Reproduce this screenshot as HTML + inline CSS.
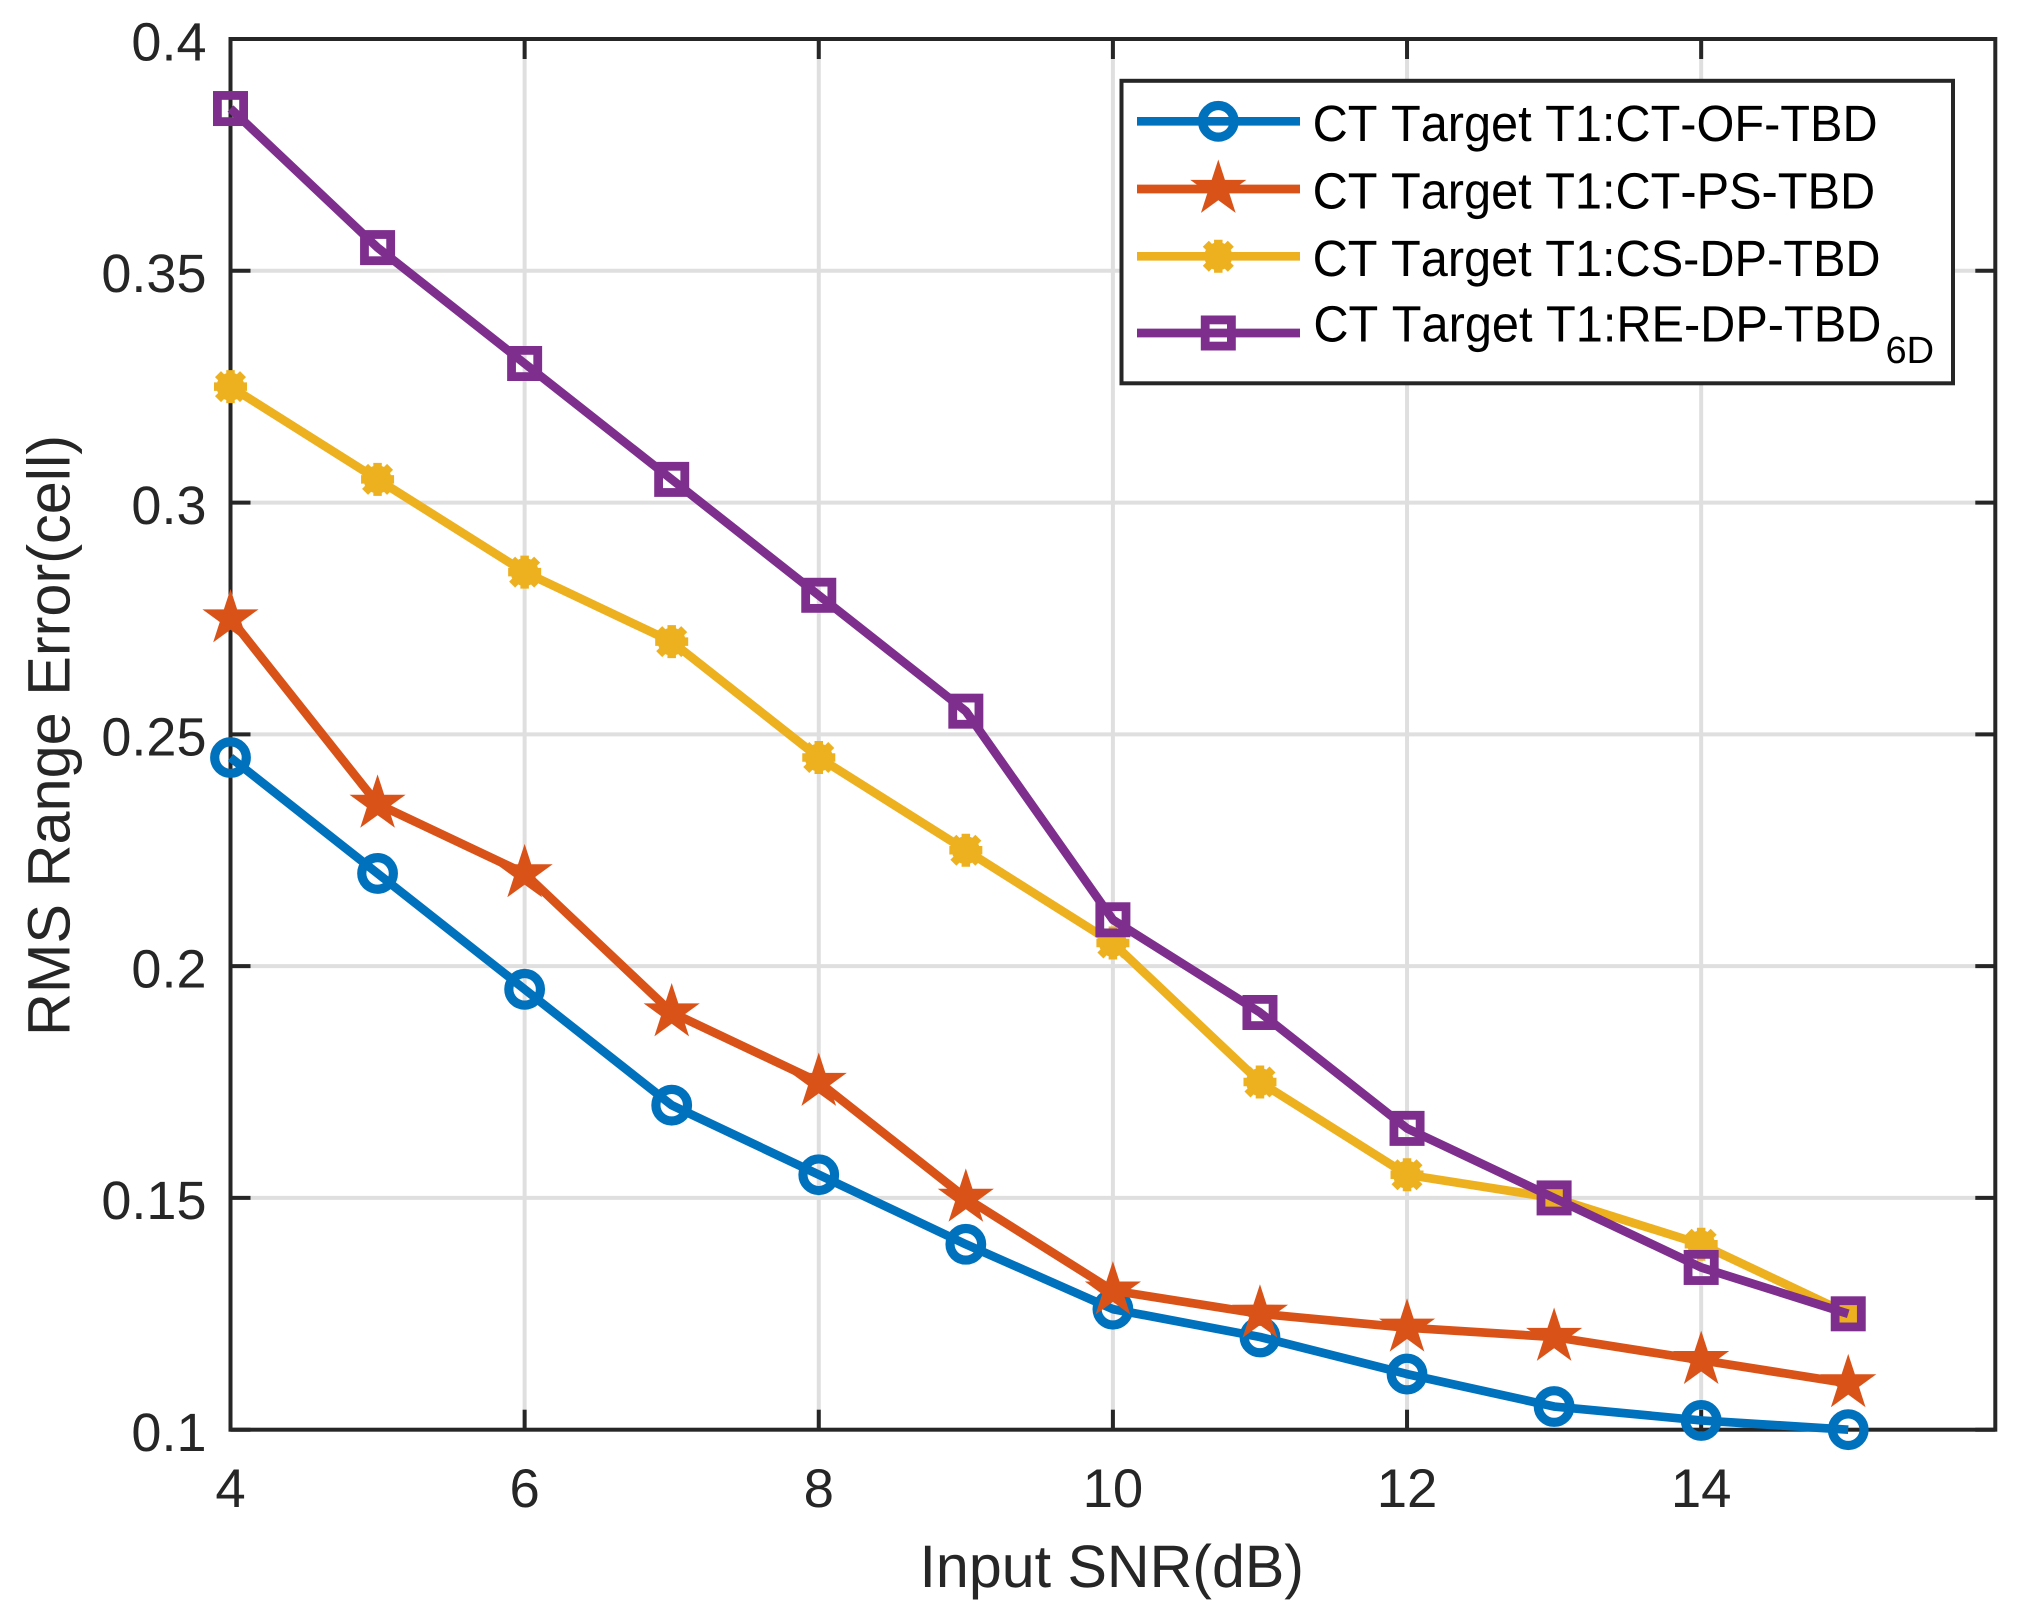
<!DOCTYPE html>
<html lang="en">
<head>
<meta charset="utf-8">
<title>RMS Range Error vs Input SNR</title>
<style>
  html, body { margin: 0; padding: 0; background: #fff; }
  svg { display: block; }
  text { font-family: "Liberation Sans", Arial, sans-serif; font-kerning: none; text-rendering: geometricPrecision; }
</style>
</head>
<body>
<svg id="chart" xmlns="http://www.w3.org/2000/svg" width="2017" height="1621" viewBox="0 0 2017 1621">
  <rect x="0" y="0" width="2017" height="1621" fill="#ffffff"/>
  <g id="grid"></g>
  <g id="axes"></g>
  <g id="ticklabels"></g>
  <text x="919.5" y="1587" font-size="60" fill="#262626" textLength="384.5" lengthAdjust="spacingAndGlyphs">Input SNR(dB)</text>
  <text transform="translate(69.3,1036) rotate(-90)" font-size="60" fill="#262626" textLength="601" lengthAdjust="spacingAndGlyphs">RMS Range Error(cell)</text>
  <g id="series"></g>
  <g id="legend">
    <rect x="1121.5" y="80.8" width="831.5" height="302.5" fill="#ffffff" stroke="#262626" stroke-width="4"/>
    <g id="legend-keys"></g>
    <text x="1312.6" y="141" font-size="51" fill="#000000" textLength="565" lengthAdjust="spacingAndGlyphs">CT Target T1:CT-OF-TBD</text>
    <text x="1312.6" y="208.7" font-size="51" fill="#000000" textLength="562.5" lengthAdjust="spacingAndGlyphs">CT Target T1:CT-PS-TBD</text>
    <text x="1312.6" y="276" font-size="51" fill="#000000" textLength="568" lengthAdjust="spacingAndGlyphs">CT Target T1:CS-DP-TBD</text>
    <text x="1313.4" y="341.7" font-size="51" fill="#000000" textLength="568" lengthAdjust="spacingAndGlyphs">CT Target T1:RE-DP-TBD</text>
    <text x="1885.5" y="363" font-size="38" fill="#000000">6D</text>
  </g>
</svg>
<script>
// ---- chart data ----
const snrValues = [4, 5, 6, 7, 8, 9, 10, 11, 12, 13, 14, 15];
const ctOfTbdValues = [0.245, 0.22, 0.195, 0.17, 0.155, 0.14, 0.126, 0.12, 0.112, 0.105, 0.102, 0.1];
const ctPsTbdValues = [0.275, 0.235, 0.22, 0.19, 0.175, 0.15, 0.13, 0.125, 0.122, 0.12, 0.115, 0.11];
const csDpTbdValues = [0.325, 0.305, 0.285, 0.27, 0.245, 0.225, 0.205, 0.175, 0.155, 0.15, 0.14, 0.125];
const reDpTbdValues = [0.385, 0.355, 0.33, 0.305, 0.28, 0.255, 0.21, 0.19, 0.165, 0.15, 0.135, 0.125];
const xTickValues = [4, 6, 8, 10, 12, 14];
const xTickLabels = ['4', '6', '8', '10', '12', '14'];
const yTickValues = [0.1, 0.15, 0.2, 0.25, 0.3, 0.35, 0.4];
const yTickLabels = ['0.1', '0.15', '0.2', '0.25', '0.3', '0.35', '0.4'];

// ---- axis functions ----
const xMin = 4, xMax = 16, yMin = 0.1, yMax = 0.4;
const plotLeft = 230.5, plotRight = 1995.3, plotTop = 39, plotBottom = 1429.7;
function xScale(v) { return plotLeft + (v - xMin) / (xMax - xMin) * (plotRight - plotLeft); }
function yScale(v) { return plotBottom - (v - yMin) / (yMax - yMin) * (plotBottom - plotTop); }

const NS = 'http://www.w3.org/2000/svg';
const AXIS_COLOR = '#262626';
const GRID_COLOR = '#dfdfdf';
const TICK_LEN = 20;
const LINE_W = 8.7;

function mk(tag, parent, attrs) {
  const el = document.createElementNS(NS, tag);
  for (const k in attrs) el.setAttribute(k, attrs[k]);
  parent.appendChild(el);
  return el;
}

function drawMarker(kind, color, cx, cy, parent) {
  if (kind === 'circle') {
    mk('circle', parent, { cx: cx, cy: cy, r: 15.8, fill: 'none', stroke: color, 'stroke-width': 9.2 });
  } else if (kind === 'square') {
    mk('rect', parent, { x: cx - 13.1, y: cy - 13.1, width: 26.2, height: 26.2, fill: 'none', stroke: color, 'stroke-width': 8.8 });
  } else if (kind === 'star') {
    const pts = [];
    for (let i = 0; i < 10; i++) {
      const r = i % 2 === 0 ? 29.5 : 11.3;
      const a = -Math.PI / 2 + i * Math.PI / 5;
      pts.push((cx + r * Math.cos(a)).toFixed(2) + ',' + (cy + r * Math.sin(a)).toFixed(2));
    }
    mk('polygon', parent, { points: pts.join(' '), fill: color });
  } else {
    mk('circle', parent, { cx: cx, cy: cy, r: 14, fill: color });
    const arms = [[16.5, 0], [0, 16.5], [12.5, 12.5], [12.5, -12.5]];
    arms.forEach(function (d) {
      mk('line', parent, { x1: cx - d[0], y1: cy - d[1], x2: cx + d[0], y2: cy + d[1], stroke: color, 'stroke-width': 8.5 });
    });
  }
}

// ---- grid ----
const gridG = document.getElementById('grid');
xTickValues.forEach(function (v) {
  if (v === xMin) return;
  const l = mk('line', gridG, { x1: xScale(v), x2: xScale(v), y1: plotTop, y2: plotBottom, stroke: GRID_COLOR, 'stroke-width': 4 });
  
  
});
yTickValues.forEach(function (v) {
  if (v === yMin || v === yMax) return;
  const l = mk('line', gridG, { x1: plotLeft, x2: plotRight, y1: yScale(v), y2: yScale(v), stroke: GRID_COLOR, 'stroke-width': 4 });
  
  
});

// ---- axes frame and ticks ----
const axesG = document.getElementById('axes');
const frame = mk('rect', axesG, { x: plotLeft, y: plotTop, width: plotRight - plotLeft, height: plotBottom - plotTop, fill: 'none', stroke: AXIS_COLOR, 'stroke-width': 4 });


xTickValues.forEach(function (v) {
  const b = mk('line', axesG, { x1: xScale(v), x2: xScale(v), y1: plotBottom, y2: plotBottom - TICK_LEN, stroke: AXIS_COLOR, 'stroke-width': 4 });
  
  
  const t = mk('line', axesG, { x1: xScale(v), x2: xScale(v), y1: plotTop, y2: plotTop + TICK_LEN, stroke: AXIS_COLOR, 'stroke-width': 4 });
  
  
});
yTickValues.forEach(function (v) {
  const lt = mk('line', axesG, { x1: plotLeft, x2: plotLeft + TICK_LEN, y1: yScale(v), y2: yScale(v), stroke: AXIS_COLOR, 'stroke-width': 4 });
  
  
  const rt = mk('line', axesG, { x1: plotRight, x2: plotRight - TICK_LEN, y1: yScale(v), y2: yScale(v), stroke: AXIS_COLOR, 'stroke-width': 4 });
  
  
});

// ---- tick labels ----
const labelsG = document.getElementById('ticklabels');
xTickValues.forEach(function (v, i) {
  const t = mk('text', labelsG, { x: xScale(v), y: 1507, 'text-anchor': 'middle', 'font-size': 54.5, fill: AXIS_COLOR });
  t.textContent = xTickLabels[i];
  
  
});
yTickValues.forEach(function (v, i) {
  const t = mk('text', labelsG, { x: 206.5, y: yScale(v) + 21.3, 'text-anchor': 'end', 'font-size': 54, fill: AXIS_COLOR });
  t.textContent = yTickLabels[i];
  
  
});

// ---- series ----
const seriesG = document.getElementById('series');
function drawSeries(values, color, kind) {
  const g = mk('g', seriesG, {});
  const pts = values.map(function (v, i) { return xScale(snrValues[i]).toFixed(2) + ',' + yScale(v).toFixed(2); }).join(' ');
  const line = mk('polyline', g, { points: pts, fill: 'none', stroke: color, 'stroke-width': LINE_W, 'stroke-linejoin': 'round' });
  
  
  values.forEach(function (v, i) {
    const m = mk('g', g, {});
    
    
    drawMarker(kind, color, xScale(snrValues[i]), yScale(v), m);
  });
  return g;
}
const ofGroup = drawSeries(ctOfTbdValues, '#0072BD', 'circle');


const psGroup = drawSeries(ctPsTbdValues, '#D95319', 'star');


const csGroup = drawSeries(csDpTbdValues, '#EDB120', 'asterisk');


const reGroup = drawSeries(reDpTbdValues, '#7E2F8E', 'square');



// ---- legend keys ----
const keysG = document.getElementById('legend-keys');
function drawKey(y, color, kind) {
  const g = mk('g', keysG, {});
  mk('line', g, { x1: 1137, x2: 1300, y1: y, y2: y, stroke: color, 'stroke-width': LINE_W });
  drawMarker(kind, color, 1218.3, y, g);
  return g;
}
const key1 = drawKey(121.3, '#0072BD', 'circle');


const key2 = drawKey(189, '#D95319', 'star');


const key3 = drawKey(256.3, '#EDB120', 'asterisk');


const key4 = drawKey(333, '#7E2F8E', 'square');


</script>
</body>
</html>
